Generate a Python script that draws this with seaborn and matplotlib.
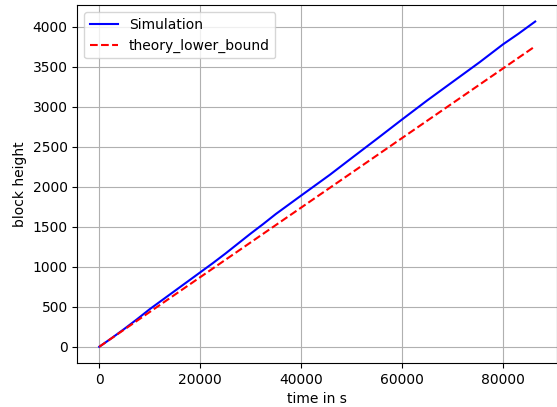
import matplotlib
matplotlib.use("Agg")
import matplotlib.pyplot as plt
import seaborn as sns
import numpy as np
import pandas as pd

# Simulation block heights
sim_time = [0, 2500, 5000, 7500, 10000, 12500, 15000, 17500, 20000, 22500, 25000,
            27500, 30000, 32500, 35000, 37500, 40000, 41800, 45700, 50000, 55000,
            60000, 65000, 70000, 75400, 80000, 83000, 86400]
sim_height = [0, 110, 225, 345, 470, 585, 700, 815, 930, 1045, 1165,
              1290, 1415, 1535, 1660, 1775, 1890, 1972, 2150, 2358, 2598,
              2841, 3080, 3310, 3558, 3780, 3910, 4066]

# Theoretical lower bound (straight line)
theory_time = [0, 86400]
theory_height = [0, 3757]

fig = plt.figure(figsize=(5.57, 4.07), dpi=100)
ax = fig.add_axes([0.139, 0.108, 0.861, 0.879])

sns.lineplot(x=sim_time, y=sim_height, ax=ax, color="blue", linewidth=1.5,
             label="Simulation")
sns.lineplot(x=theory_time, y=theory_height, ax=ax, color="red", linewidth=1.5,
             linestyle="--", label="theory_lower_bound")

ax.set_xlim(-4320, 90720)
ax.set_ylim(-203, 4269)
ax.set_xticks([0, 20000, 40000, 60000, 80000])
ax.set_yticks([0, 500, 1000, 1500, 2000, 2500, 3000, 3500, 4000])
ax.grid(True, color="#b0b0b0", linewidth=0.8)
ax.set_axisbelow(True)
ax.set_xlabel("time in s")
ax.set_ylabel("block height")
ax.legend(loc="upper left")

fig.savefig("out.png", dpi=100)
